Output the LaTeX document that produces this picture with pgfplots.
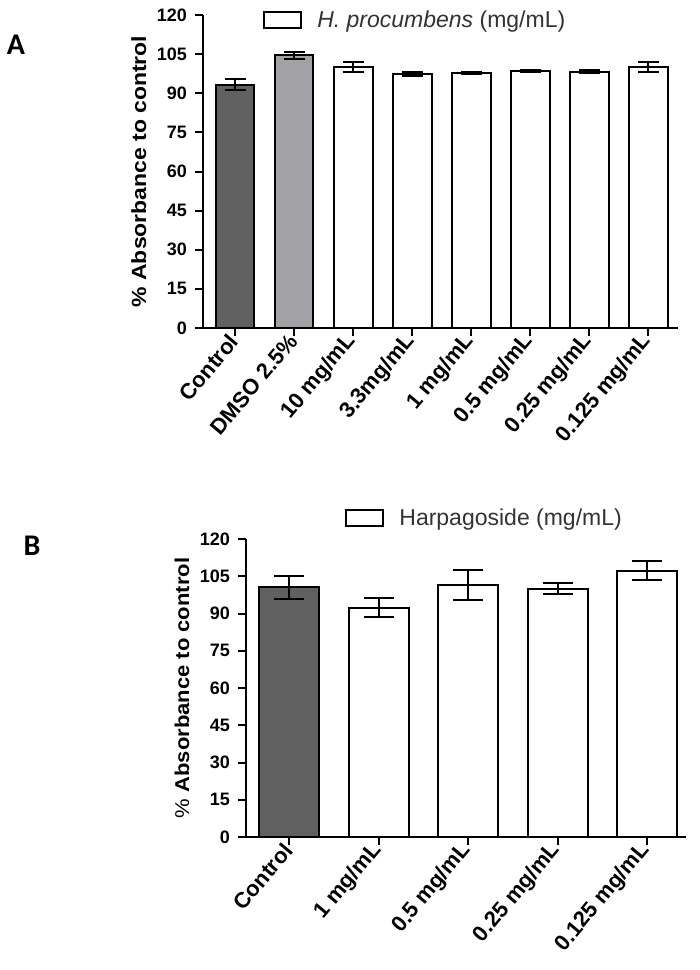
\documentclass[border=0pt]{standalone}
\usepackage{pgfplots}
\pgfplotsset{compat=1.18}
\usepackage{fontspec}
\setmainfont{Liberation Sans}
\newfontfamily\carlito{Carlito}
\definecolor{darkbar}{HTML}{606060}
\definecolor{lightbar}{HTML}{A2A2A6}
\definecolor{legtext}{HTML}{333333}

\pgfplotsset{
 mystyle/.style={
  scale only axis,
  axis lines=left,
  axis line style={-, line width=2pt},
  ymin=0, ymax=120, ytick={0,15,30,45,60,75,90,105,120},
  yticklabels={0,15,30,45,60,75,90,105,120},
  tick align=outside,
  major tick length=8pt,
  every tick/.style={black, line width=2pt},
  /pgf/number format/assume math mode=true,
  yticklabel style={font=\fontsize{18}{18}\selectfont\bfseries, inner sep=2pt, xshift=-6pt},
  xticklabel style={font=\fontsize{22}{22}\selectfont\bfseries, rotate=50, anchor=east, inner sep=2pt},
  ylabel shift=5pt,
  ybar, bar shift=0pt,
  legend image code/.code={\draw[line width=2.2pt, fill=white] (0pt,-8pt) rectangle (37pt,8pt);},
  legend style={draw=none, fill=none, inner sep=0pt, column sep=15pt, nodes={inner sep=0pt},
    font=\fontsize{23}{23}\selectfont, text=legtext},
 },
 barA/.style={draw=black, line width=2pt, bar width=38.5pt,
  error bars/y dir=both, error bars/y explicit,
  error bars/error bar style={line width=2pt},
  error bars/error mark options={rotate=90, mark size=10.5pt, line width=2pt}},
 barB/.style={draw=black, line width=2pt, bar width=60pt,
  error bars/y dir=both, error bars/y explicit,
  error bars/error bar style={line width=2pt},
  error bars/error mark options={rotate=90, mark size=15pt, line width=2pt}},
}

\begin{document}
\begin{tikzpicture}
\path (0pt,0pt) rectangle (700pt,-970pt);
\node[font=\carlito\bfseries\fontsize{30}{30}\selectfont] at (16pt,-45pt) {A};
\node[font=\carlito\bfseries\fontsize{30}{30}\selectfont] at (32pt,-546pt) {B};

% Panel A
\begin{axis}[mystyle,
  at={(203pt,-328pt)}, anchor=south west,
  width=475pt, height=313pt,
  xmin=-0.545, xmax=7.5,
  xtick={0,1,2,3,4,5,6,7},
  xticklabels={Control, DMSO 2.5\%, 10 mg/mL, 3.3mg/mL, 1 mg/mL, 0.5 mg/mL, 0.25 mg/mL, 0.125 mg/mL},
  ylabel={\scalebox{1.12}[1]{\bfseries\fontsize{20.5}{20.5}\selectfont \% Absorbance to control}},
  legend style={at={(axis description cs:0.126,0.984)}, anchor=west},
]
\addplot[barA, fill=darkbar, forget plot] coordinates {(0,93.3) +- (0,2.0)};
\addplot[barA, fill=lightbar, forget plot] coordinates {(1,104.6) +- (0,1.4)};
\addplot[barA, fill=white] coordinates {
 (2,99.9) +- (0,1.9)
 (3,97.5) +- (0,0.7)
 (4,97.9) +- (0,0.4)
 (5,98.6) +- (0,0.4)
 (6,98.3) +- (0,0.6)
 (7,99.9) +- (0,1.9)
};
\addlegendentry{\textit{H. procumbens} (mg/mL)}
\end{axis}

% Panel B
\begin{axis}[mystyle,
  at={(246pt,-837pt)}, anchor=south west,
  width=440pt, height=298pt,
  xmin=-0.485, xmax=4.436,
  xtick={0,1,2,3,4},
  xticklabels={Control, 1 mg/mL, 0.5 mg/mL, 0.25 mg/mL, 0.125 mg/mL},
  ylabel={\scalebox{1.1}[1]{\bfseries\fontsize{20}{20}\selectfont {\mdseries\%} Absorbance to control}},
  legend style={at={(axis description cs:0.225,1.07)}, anchor=west},
]
\addplot[barB, fill=darkbar, forget plot] coordinates {(0,100.5) +- (0,4.6)};
\addplot[barB, fill=white] coordinates {
 (1,92.4) +- (0,3.8)
 (2,101.6) +- (0,6.0)
 (3,99.9) +- (0,2.2)
 (4,107.3) +- (0,4.0)
};
\addlegendentry{Harpagoside (mg/mL)}
\end{axis}
\end{tikzpicture}
\end{document}
